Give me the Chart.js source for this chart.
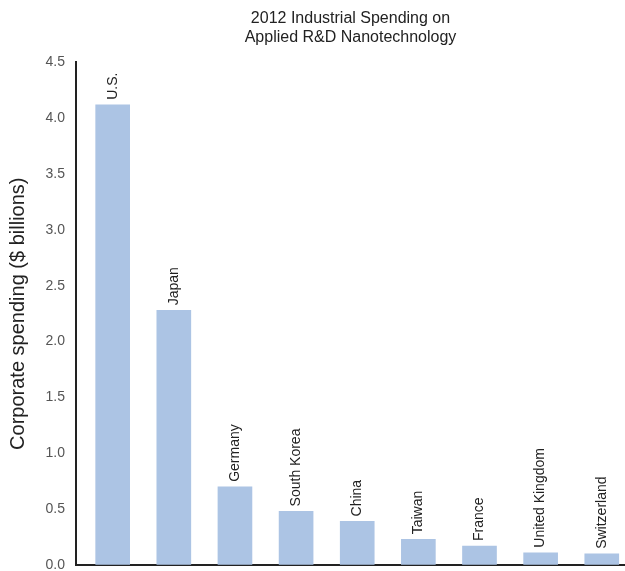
<!DOCTYPE html>
<html>
<head>
<meta charset="utf-8">
<script src="https://cdn.jsdelivr.net/npm/chart.js@4/dist/chart.umd.min.js"></script>
<style>
  html, body { margin: 0; padding: 0; background: #fff; }
  #wrap { width: 625px; height: 571px; }
</style>
</head>
<body>
<div id="wrap"><canvas id="c" width="625" height="571"></canvas></div>
<script>
// Corporate spending on applied nanotechnology R&D, 2012 ($ billions)
const countries = ['U.S.', 'Japan', 'Germany', 'South Korea', 'China', 'Taiwan', 'France', 'United Kingdom', 'Switzerland'];
const spending = [4.12, 2.28, 0.70, 0.48, 0.39, 0.23, 0.17, 0.11, 0.10];
const yTicks = [0, 0.5, 1.0, 1.5, 2.0, 2.5, 3.0, 3.5, 4.0, 4.5];

const FONT = '"Liberation Sans", Arial, sans-serif';

// Write each country's name vertically just above its bar
const barNames = {
  id: 'barNames',
  afterDatasetsDraw(chart) {
    const ctx = chart.ctx;
    const meta = chart.getDatasetMeta(0);
    ctx.save();
    ctx.font = '14px ' + FONT;
    ctx.fillStyle = '#222';
    ctx.textAlign = 'left';
    ctx.textBaseline = 'middle';
    meta.data.forEach((bar, i) => {
      ctx.save();
      ctx.translate(bar.x, bar.y - 5);
      ctx.rotate(-Math.PI / 2);
      ctx.fillText(countries[i], 0, 0);
      ctx.restore();
    });
    ctx.restore();
  }
};

new Chart(document.getElementById('c'), {
  type: 'bar',
  data: {
    datasets: [{
      data: spending.map((v, i) => ({ x: i, y: v })),
      backgroundColor: 'rgb(172,196,228)',
      borderWidth: 0,
      barThickness: 34
    }]
  },
  options: {
    responsive: false,
    animation: false,
    events: [],
    layout: { padding: { left: 6, right: 0, top: 0, bottom: 0 } },
    plugins: {
      legend: { display: false },
      tooltip: { enabled: false },
      title: {
        display: true,
        fullSize: false,
        text: ['2012 Industrial Spending on', 'Applied R&D Nanotechnology'],
        color: '#222',
        font: { family: FONT, size: 16, weight: 'normal', lineHeight: 1.2 },
        padding: { top: 9, bottom: 15 }
      }
    },
    scales: {
      x: {
        type: 'linear',
        min: -0.6,
        max: 8.38,
        offset: false,
        ticks: { display: false },
        grid: { display: false, drawTicks: false },
        border: { display: true, color: '#222', width: 2 },
        afterFit(scale) { scale.height = 6; }
      },
      y: {
        min: 0,
        max: 4.5,
        afterBuildTicks(scale) { scale.ticks = yTicks.map(v => ({ value: v })); },
        ticks: {
          callback: v => v.toFixed(1),
          color: '#555',
          font: { family: FONT, size: 14 },
          padding: 2
        },
        grid: { drawOnChartArea: false, drawTicks: true, tickLength: 9, tickColor: 'rgba(0,0,0,0)' },
        border: { display: true, color: '#222', width: 2 },
        title: {
          display: true,
          text: 'Corporate spending ($ billions)',
          color: '#222',
          font: { family: FONT, size: 20 },
          padding: { top: 0, bottom: 6 }
        },
        afterFit(scale) {
          scale.width = 70;
          scale.paddingTop = 0;
          scale.paddingBottom = 0;
        }
      }
    }
  },
  plugins: [barNames]
});
</script>
</body>
</html>
